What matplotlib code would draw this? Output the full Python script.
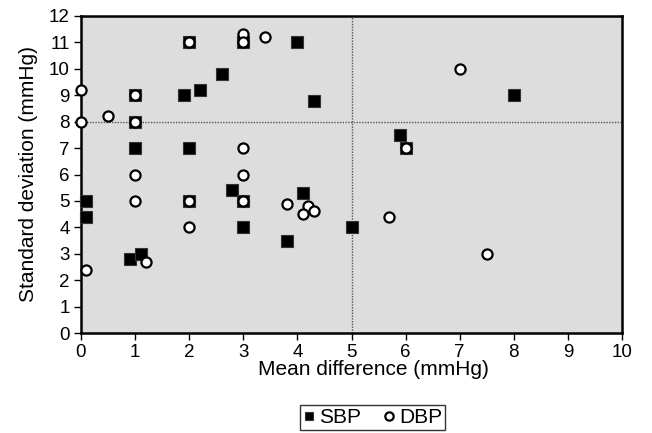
import matplotlib
matplotlib.use("Agg")
import matplotlib.pyplot as plt

# SBP (filled squares)
sbp_x = [0.1, 0.1, 0.9, 1.1, 1, 1, 1, 1.9, 2.2, 2.6, 2, 2, 2, 2.8, 3, 3, 3,
         3.8, 4.1, 4, 4.3, 5, 5.9, 6, 8]
sbp_y = [5, 4.4, 2.8, 3.0, 9, 8, 7, 9.0, 9.2, 9.8, 11, 7, 5, 5.4, 11, 5, 4,
         3.5, 5.3, 11, 8.8, 4, 7.5, 7, 9]

# DBP (open circles)
dbp_x = [0, 0, 0.5, 1, 1, 1, 1, 0.1, 1.2, 2, 2, 2, 3, 3, 3.4, 3, 3, 3,
         3.8, 4.2, 4.1, 4.3, 5.7, 6, 7, 7.5]
dbp_y = [9.2, 8, 8.2, 9, 8, 6, 5, 2.4, 2.7, 11, 5, 4, 11.3, 11, 11.2, 7, 6, 5,
         4.9, 4.8, 4.5, 4.6, 4.4, 7, 10, 3]

plt.rcParams['font.family'] = ['Liberation Sans', 'DejaVu Sans']

W, H = 652, 433
fig = plt.figure(figsize=(W / 100, H / 100), dpi=100, facecolor="white")
# plot area in pixels: x 81..622, y 16..333
ax = fig.add_axes([81 / W, 1 - 333 / H, (622 - 81) / W, (333 - 16) / H])
ax.set_facecolor("#dddddd")

ax.axvline(5, color="#555555", linestyle=(0, (1, 1)), linewidth=1, zorder=1)
ax.axhline(8, color="#555555", linestyle=(0, (1, 1)), linewidth=1, zorder=1)

ax.plot(sbp_x, sbp_y, 's', color="black", markersize=8.5,
        markeredgecolor="#333333", markeredgewidth=0.8, label="SBP", zorder=3,
        clip_on=False)
ax.plot(dbp_x, dbp_y, 'o', markerfacecolor="white", markeredgecolor="black",
        markersize=7.3, markeredgewidth=1.6, label="DBP", zorder=4,
        clip_on=False)

ax.set_xlim(0, 10)
ax.set_ylim(0, 12)
ax.set_xticks(range(0, 11))
ax.set_yticks(range(0, 13))
ax.tick_params(direction="out", length=5, width=1, labelsize=13.5, pad=3)
for s in ax.spines.values():
    s.set_linewidth(1.8)

ax.set_xlabel("Mean difference (mmHg)", fontsize=15)
ax.xaxis.set_label_coords((373 - 81) / (622 - 81), -0.085)
ax.set_ylabel("Standard deviation (mmHg)", fontsize=15, labelpad=8)

leg = fig.legend(loc="upper center", bbox_to_anchor=(372.5 / W, 1 - 405 / H),
                 ncol=2, fontsize=15, frameon=True, fancybox=False,
                 handletextpad=0.2, columnspacing=1.0, handlelength=0.6,
                 borderpad=0.15, borderaxespad=0)
leg.get_frame().set_edgecolor("black")
leg.get_frame().set_linewidth(1.0)
for h in leg.legend_handles:
    h.set_markersize(6)

fig.savefig("out.png", dpi=100)
